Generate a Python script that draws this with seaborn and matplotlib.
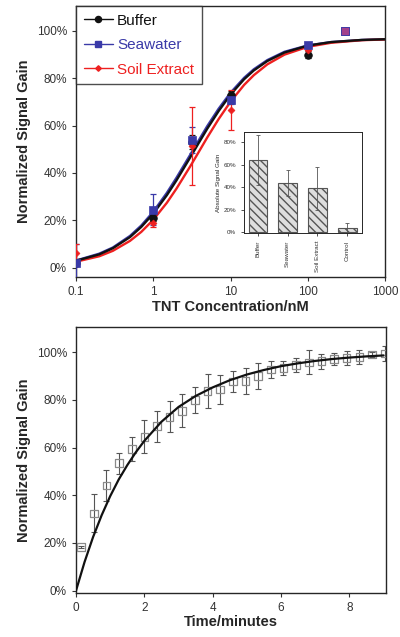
import numpy as np
import pandas as pd
import matplotlib
matplotlib.use("Agg")
import matplotlib.pyplot as plt
import matplotlib.ticker as mticker
from matplotlib.lines import Line2D
import seaborn as sns

# ---------------------------------------------------------------------------
# Data
# ---------------------------------------------------------------------------

# Top panel: TNT titration, measured points
conc = [0.1, 1, 3.16, 10, 100, 300]
buffer_gain = [2.0, 21.0, 53.0, 73.0, 90.0, 100.0]
buffer_err = [1.5, 1.5, 3.0, 1.5, 1.5, 0.5]
sea_gain = [2.0, 24.5, 54.0, 71.0, 94.0, 100.0]
sea_err = [8.0, 6.5, 5.5, 2.0, 1.0, 0.5]
soil_gain = [6.0, 19.0, 51.5, 66.5, 92.0, 100.0]
soil_err = [4.0, 2.0, 16.5, 8.5, 1.5, 0.5]

# Top panel: fitted curves, sampled from the figure
fit_conc = [0.1, 0.2, 0.3, 0.5, 0.7, 1, 1.5, 2, 3, 4, 5, 7, 10, 15, 20, 30,
            50, 100, 200, 500, 1000]
fit_buffer = [2.9, 5.6, 8.2, 12.9, 17.2, 22.8, 30.6, 36.9, 46.5, 53.4, 58.7,
              66.1, 73.1, 79.6, 83.3, 87.3, 90.9, 93.8, 95.3, 96.2, 96.5]
fit_sea = [3.0, 5.9, 8.5, 13.4, 17.8, 23.6, 31.6, 38.0, 47.6, 54.5, 59.8,
           67.1, 73.9, 80.2, 83.8, 87.7, 91.2, 93.9, 95.3, 96.2, 96.5]
fit_soil = [2.5, 4.8, 7.1, 11.3, 15.1, 20.2, 27.4, 33.4, 42.7, 49.6, 55.0,
            62.7, 70.1, 77.2, 81.3, 85.9, 90.0, 93.3, 95.0, 96.1, 96.4]

# Inset: absolute signal gain
matrices = ["Buffer", "Seawater", "Soil Extract", "Control"]
abs_gain = [64, 44, 39, 3.5]
abs_err = [22, 11.5, 19, 4.5]

# Bottom panel: kinetics
time_min = [0.15, 0.52, 0.89, 1.26, 1.63, 2.00, 2.37, 2.74, 3.11, 3.48, 3.85,
            4.22, 4.59, 4.96, 5.33, 5.70, 6.07, 6.44, 6.81, 7.18, 7.55, 7.92,
            8.29, 8.66, 9.03]
kin_gain = [18.4, 32.4, 44.0, 53.4, 59.4, 64.5, 69.0, 72.9, 75.4, 79.9, 83.7,
            84.4, 87.6, 87.8, 90.0, 92.7, 93.4, 94.6, 95.7, 96.2, 97.1, 97.6,
            97.9, 99.0, 99.4]
kin_err = [0.5, 8.0, 6.5, 4.5, 5.0, 7.0, 6.5, 6.5, 7.0, 5.5, 7.0, 6.0, 4.5,
           5.5, 5.5, 3.5, 3.0, 3.0, 5.0, 3.2, 2.5, 3.0, 3.0, 1.0, 3.0]
fit_time = [0, 0.25, 0.5, 0.75, 1, 1.25, 1.5, 1.75, 2, 2.5, 3, 3.5, 4, 4.5, 5,
            5.5, 6, 6.5, 7, 7.5, 8, 8.5, 9]
fit_kin = [0, 12.0, 22.5, 31.6, 39.6, 46.6, 52.6, 58.0, 62.8, 70.8, 77.0,
           81.6, 85.2, 88.2, 90.6, 92.5, 94.1, 95.3, 96.3, 97.1, 97.7, 98.2,
           98.6]

# ---------------------------------------------------------------------------
# Style
# ---------------------------------------------------------------------------

BLACK = "#111111"
BLUE = "#3a3aa8"
RED = "#ee2020"
MIXED = "#a2408c"   # red + blue markers overlapping at 300 nM
GREY = "#8a8a8a"

sns.set_style("ticks")
plt.rcParams.update({
    "font.family": ["Liberation Sans", "DejaVu Sans"],
    "axes.linewidth": 1.0,
    "xtick.direction": "out",
    "ytick.direction": "out",
    "xtick.major.size": 3,
    "ytick.major.size": 3,
    "xtick.labelsize": 8.5,
    "ytick.labelsize": 8.5,
    "xtick.color": "#333333",
    "ytick.color": "#333333",
})

pct = mticker.FuncFormatter(lambda v, _: f"{v:.0f}%")

fig = plt.figure(figsize=(4.0, 6.37), dpi=100)

# ---------------------------------------------------------------------------
# Top panel
# ---------------------------------------------------------------------------

ax1 = fig.add_axes([0.19, 0.565, 0.7725, 0.4254])

for ys, col in [(fit_sea, BLUE), (fit_soil, RED), (fit_buffer, BLACK)]:
    sns.lineplot(x=fit_conc, y=ys, color=col, lw=1.7, ax=ax1, sort=False)

series = [
    ("Buffer", buffer_gain, buffer_err, BLACK, "o", 5.5),
    ("Seawater", sea_gain, sea_err, BLUE, "s", 5.5),
    ("Soil Extract", soil_gain, soil_err, RED, "D", 3.5),
]
for name, ys, es, col, mk, ms in series:
    ax1.errorbar(conc, ys, yerr=es, fmt="none", ecolor=col, elinewidth=0.9,
                 capsize=2, capthick=0.9, zorder=3)
for name, ys, es, col, mk, ms in [series[0], series[2], series[1]]:
    sns.scatterplot(x=conc, y=ys, color=col, marker=mk, s=ms ** 2,
                    edgecolor=col, linewidth=0.5, ax=ax1, zorder=4)
# overlapping point at the highest concentration looks purple
ax1.scatter(conc[-1], sea_gain[-1], marker="s", s=5.5 ** 2, color=MIXED,
            edgecolor=BLUE, linewidth=0.6, zorder=5)

ax1.set_xscale("log")
ax1.set_xlim(0.1, 1000)
ax1.set_ylim(-4, 110.5)
ax1.xaxis.set_major_locator(mticker.FixedLocator([0.1, 1, 10, 100, 1000]))
ax1.xaxis.set_major_formatter(mticker.FixedFormatter(["0.1", "1", "10", "100", "1000"]))
ax1.xaxis.set_minor_locator(mticker.NullLocator())
ax1.yaxis.set_major_locator(mticker.MultipleLocator(20))
ax1.yaxis.set_major_formatter(pct)
ax1.set_xlabel("TNT Concentration/nM", fontsize=10.5, fontweight="bold", labelpad=1)
ax1.set_ylabel("Normalized Signal Gain", fontsize=10.5, fontweight="bold", labelpad=4)
for sp in ax1.spines.values():
    sp.set_visible(True)

handles = [Line2D([0], [0], color=col, marker=mk, markersize=ms * 0.8, lw=1.0)
           for name, ys, es, col, mk, ms in series]
leg = ax1.legend(handles, [s[0] for s in series], loc="upper left",
                 fontsize=11, frameon=True, fancybox=False, handlelength=1.9,
                 handletextpad=0.3, borderaxespad=0.0, borderpad=0.5,
                 labelspacing=0.68, labelcolor="linecolor")
leg.get_frame().set_edgecolor("#222222")
leg.get_frame().set_linewidth(1.0)

# Inset bar chart
axin = fig.add_axes([0.61, 0.634, 0.295, 0.1586])
inset_df = pd.DataFrame({"matrix": matrices, "gain": abs_gain})
sns.barplot(data=inset_df, x="matrix", y="gain", color="#dedede", width=0.63,
            edgecolor="#555555", linewidth=0.8, ax=axin, errorbar=None)
for p in axin.patches:
    p.set_hatch("\\\\\\\\")
axin.errorbar(range(len(matrices)), abs_gain, yerr=abs_err, fmt="none",
              ecolor="#555555", elinewidth=0.6, capsize=1.5, capthick=0.6)
axin.set_xlim(-0.47, 3.5)
axin.set_ylim(-1, 89)
axin.yaxis.set_major_locator(mticker.MultipleLocator(20))
axin.yaxis.set_major_formatter(pct)
axin.tick_params(axis="both", labelsize=4.5, length=2, width=0.6)
axin.set_xticks(range(len(matrices)))
axin.set_xticklabels(matrices, rotation=90)
axin.set_xlabel("")
axin.set_ylabel("Absolute Signal Gain", fontsize=4.5, labelpad=2)
for sp in axin.spines.values():
    sp.set_visible(True)
    sp.set_linewidth(0.7)

# ---------------------------------------------------------------------------
# Bottom panel
# ---------------------------------------------------------------------------

ax2 = fig.add_axes([0.19, 0.069, 0.775, 0.4176])
ax2.errorbar(time_min, kin_gain, yerr=kin_err, fmt="none", ecolor="#555555",
             elinewidth=0.8, capsize=2, capthick=0.8, zorder=2)
sns.scatterplot(x=time_min, y=kin_gain, marker="s", s=30, facecolor="none",
                edgecolor=GREY, linewidth=0.9, ax=ax2, zorder=3)
sns.lineplot(x=fit_time, y=fit_kin, color=BLACK, lw=1.6, ax=ax2, zorder=4)

ax2.set_xlim(0, 9.07)
ax2.set_ylim(-1, 110.5)
ax2.xaxis.set_major_locator(mticker.MultipleLocator(2))
ax2.yaxis.set_major_locator(mticker.MultipleLocator(20))
ax2.yaxis.set_major_formatter(pct)
ax2.set_xlabel("Time/minutes", fontsize=10.5, fontweight="bold", labelpad=1)
ax2.set_ylabel("Normalized Signal Gain", fontsize=10.5, fontweight="bold", labelpad=4)
for sp in ax2.spines.values():
    sp.set_visible(True)

fig.savefig("out.png", dpi=100)
